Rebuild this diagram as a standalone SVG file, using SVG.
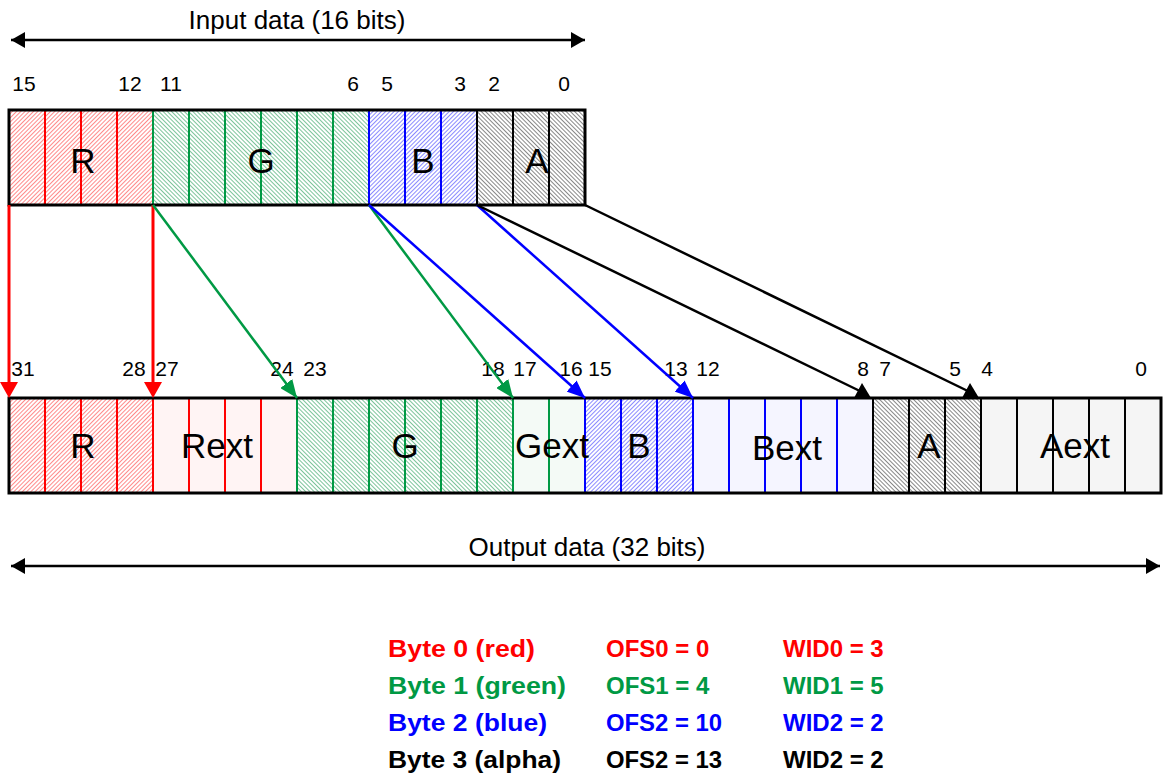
<svg xmlns="http://www.w3.org/2000/svg" width="1165" height="776" viewBox="0 0 1165 776">
<style>
text { font-family: "Liberation Sans", Arial, Helvetica, sans-serif; }
.num { font-size: 21px; text-anchor: middle; fill: #000; }
.big { font-size: 35px; text-anchor: middle; fill: #000; }
.title { font-size: 26px; text-anchor: middle; fill: #000; }
.leg { font-size: 24px; font-weight: bold; }
.border { fill: none; stroke: #000; stroke-width: 3; }
.dr { stroke: #ff0000; stroke-width: 2; }
.dg { stroke: #009944; stroke-width: 2; }
.db { stroke: #0000ff; stroke-width: 2; }
.dk { stroke: #000; stroke-width: 2; }
.cr { stroke: #ff0000; stroke-width: 3; fill: none; }
.cg { stroke: #009944; stroke-width: 2.5; fill: none; marker-end: url(#ahG); }
.cb { stroke: #0000ff; stroke-width: 2.5; fill: none; marker-end: url(#ahB); }
.ck { stroke: #000; stroke-width: 2.5; fill: none; }
</style>
<defs>
<pattern id="hR" width="3" height="3" patternUnits="userSpaceOnUse" patternTransform="rotate(45)">
<rect width="3" height="3" fill="#fff"/><rect width="1" height="3" fill="#ff8a8a"/>
</pattern>
<pattern id="hG" width="3" height="3" patternUnits="userSpaceOnUse" patternTransform="rotate(-45)">
<rect width="3" height="3" fill="#fff"/><rect width="1" height="3" fill="#7cc49a"/>
</pattern>
<pattern id="hB" width="3" height="3" patternUnits="userSpaceOnUse" patternTransform="rotate(45)">
<rect width="3" height="3" fill="#fff"/><rect width="1" height="3" fill="#8a8aff"/>
</pattern>
<pattern id="hA" width="3" height="3" patternUnits="userSpaceOnUse" patternTransform="rotate(-45)">
<rect width="3" height="3" fill="#fff"/><rect width="1" height="3" fill="#888"/>
</pattern>
<marker id="ahG" markerUnits="userSpaceOnUse" markerWidth="18" markerHeight="15" refX="18" refY="7.5" orient="auto">
<path d="M0,0 L18,7.5 L0,15 z" fill="#009944"/>
</marker>
<marker id="ahB" markerUnits="userSpaceOnUse" markerWidth="18" markerHeight="15" refX="18" refY="7.5" orient="auto">
<path d="M0,0 L18,7.5 L0,15 z" fill="#0000ff"/>
</marker>
<marker id="ahK" markerUnits="userSpaceOnUse" markerWidth="14" markerHeight="16" refX="14" refY="8" orient="auto-start-reverse">
<path d="M0,0 L14,8 L0,16 z" fill="#000"/>
</marker>
</defs>
<rect width="1165" height="776" fill="#fff"/>

<g id="input-title">
<text class="title" x="297" y="29">Input data (16 bits)</text>
<line x1="11" y1="40" x2="585" y2="40" stroke="#000" stroke-width="2.5" marker-start="url(#ahK)" marker-end="url(#ahK)"/>
</g>

<g id="input-register">
<rect x="9" y="110" width="144" height="95" fill="url(#hR)"/>
<rect x="153" y="110" width="216" height="95" fill="url(#hG)"/>
<rect x="369" y="110" width="108" height="95" fill="url(#hB)"/>
<rect x="477" y="110" width="108" height="95" fill="url(#hA)"/>
<g class="dr"><line x1="45" y1="110" x2="45" y2="205"/><line x1="81" y1="110" x2="81" y2="205"/><line x1="117" y1="110" x2="117" y2="205"/></g>
<g class="dg"><line x1="153" y1="110" x2="153" y2="205"/><line x1="189" y1="110" x2="189" y2="205"/><line x1="225" y1="110" x2="225" y2="205"/><line x1="261" y1="110" x2="261" y2="205"/><line x1="297" y1="110" x2="297" y2="205"/><line x1="333" y1="110" x2="333" y2="205"/></g>
<g class="db"><line x1="369" y1="110" x2="369" y2="205"/><line x1="405" y1="110" x2="405" y2="205"/><line x1="441" y1="110" x2="441" y2="205"/></g>
<g class="dk"><line x1="477" y1="110" x2="477" y2="205"/><line x1="513" y1="110" x2="513" y2="205"/><line x1="549" y1="110" x2="549" y2="205"/></g>
<rect class="border" x="9" y="110" width="576" height="95"/>
<text class="big" x="83" y="173">R</text>
<text class="big" x="261" y="173">G</text>
<text class="big" x="423" y="173">B</text>
<text class="big" x="537" y="173">A</text>
</g>

<g id="input-bits">
<text class="num" x="24" y="91">15</text>
<text class="num" x="130" y="91">12</text>
<text class="num" x="171" y="91">11</text>
<text class="num" x="353" y="91">6</text>
<text class="num" x="387" y="91">5</text>
<text class="num" x="460" y="91">3</text>
<text class="num" x="494" y="91">2</text>
<text class="num" x="564" y="91">0</text>
</g>

<g id="output-register">
<rect x="9" y="398" width="144" height="95" fill="url(#hR)"/>
<rect x="153" y="398" width="144" height="95" fill="#fff4f4"/>
<rect x="297" y="398" width="216" height="95" fill="url(#hG)"/>
<rect x="513" y="398" width="72" height="95" fill="#f4faf6"/>
<rect x="585" y="398" width="108" height="95" fill="url(#hB)"/>
<rect x="693" y="398" width="180" height="95" fill="#f5f5ff"/>
<rect x="873" y="398" width="108" height="95" fill="url(#hA)"/>
<rect x="981" y="398" width="180" height="95" fill="#f5f5f5"/>
<g class="dr"><line x1="45" y1="398" x2="45" y2="493"/><line x1="81" y1="398" x2="81" y2="493"/><line x1="117" y1="398" x2="117" y2="493"/><line x1="153" y1="398" x2="153" y2="493"/><line x1="189" y1="398" x2="189" y2="493"/><line x1="225" y1="398" x2="225" y2="493"/><line x1="261" y1="398" x2="261" y2="493"/></g>
<g class="dg"><line x1="297" y1="398" x2="297" y2="493"/><line x1="333" y1="398" x2="333" y2="493"/><line x1="369" y1="398" x2="369" y2="493"/><line x1="405" y1="398" x2="405" y2="493"/><line x1="441" y1="398" x2="441" y2="493"/><line x1="477" y1="398" x2="477" y2="493"/><line x1="513" y1="398" x2="513" y2="493"/><line x1="549" y1="398" x2="549" y2="493"/></g>
<g class="db"><line x1="585" y1="398" x2="585" y2="493"/><line x1="621" y1="398" x2="621" y2="493"/><line x1="657" y1="398" x2="657" y2="493"/><line x1="693" y1="398" x2="693" y2="493"/><line x1="729" y1="398" x2="729" y2="493"/><line x1="765" y1="398" x2="765" y2="493"/><line x1="801" y1="398" x2="801" y2="493"/><line x1="837" y1="398" x2="837" y2="493"/></g>
<g class="dk"><line x1="873" y1="398" x2="873" y2="493"/><line x1="909" y1="398" x2="909" y2="493"/><line x1="945" y1="398" x2="945" y2="493"/><line x1="981" y1="398" x2="981" y2="493"/><line x1="1017" y1="398" x2="1017" y2="493"/><line x1="1053" y1="398" x2="1053" y2="493"/><line x1="1089" y1="398" x2="1089" y2="493"/><line x1="1125" y1="398" x2="1125" y2="493"/></g>
<rect class="border" x="9" y="398" width="1152" height="95"/>
<text class="big" x="83" y="458">R</text>
<text class="big" x="217" y="458">Rext</text>
<text class="big" x="405" y="458">G</text>
<text class="big" x="552" y="458">Gext</text>
<text class="big" x="639" y="458">B</text>
<text class="big" x="787" y="460">Bext</text>
<text class="big" x="929" y="458">A</text>
<text class="big" x="1075" y="458">Aext</text>
</g>

<g id="output-bits">
<text class="num" x="23" y="376">31</text>
<text class="num" x="134" y="376">28</text>
<text class="num" x="167" y="376">27</text>
<text class="num" x="282" y="376">24</text>
<text class="num" x="315" y="376">23</text>
<text class="num" x="493" y="376">18</text>
<text class="num" x="525" y="376">17</text>
<text class="num" x="571" y="376">16</text>
<text class="num" x="600" y="376">15</text>
<text class="num" x="676" y="376">13</text>
<text class="num" x="708" y="376">12</text>
<text class="num" x="863" y="376">8</text>
<text class="num" x="885" y="376">7</text>
<text class="num" x="955" y="376">5</text>
<text class="num" x="987" y="376">4</text>
<text class="num" x="1141" y="376">0</text>
</g>

<g id="connectors">
<line class="cr" x1="9" y1="205" x2="9" y2="384"/>
<polygon points="0,382 18,382 9,398" fill="#ff0000"/>
<line class="cr" x1="153" y1="205" x2="153" y2="384"/>
<polygon points="144,382 162,382 153,398" fill="#ff0000"/>
<line class="cg" x1="153" y1="205" x2="297" y2="398"/>
<line class="cg" x1="369" y1="205" x2="513" y2="398"/>
<line class="cb" x1="369" y1="205" x2="585" y2="398"/>
<line class="cb" x1="477" y1="205" x2="693" y2="398"/>
<line class="ck" x1="477" y1="205" x2="866" y2="394"/>
<polygon points="862,383 854,398 871,398" fill="#000"/>
<line class="ck" x1="585" y1="205" x2="974" y2="394"/>
<polygon points="970,383 962,398 979,398" fill="#000"/>
</g>

<g id="output-title">
<text class="title" x="587" y="556">Output data (32 bits)</text>
<line x1="11" y1="566" x2="1160" y2="566" stroke="#000" stroke-width="2.5" marker-start="url(#ahK)" marker-end="url(#ahK)"/>
</g>

<g id="legend">
<text class="leg" x="388" y="657" fill="#ff0000" textLength="147" lengthAdjust="spacingAndGlyphs">Byte 0 (red)</text>
<text class="leg" x="606" y="657" fill="#ff0000">OFS0 = 0</text>
<text class="leg" x="783" y="657" fill="#ff0000">WID0 = 3</text>
<text class="leg" x="388" y="694" fill="#009944" textLength="178" lengthAdjust="spacingAndGlyphs">Byte 1 (green)</text>
<text class="leg" x="606" y="694" fill="#009944">OFS1 = 4</text>
<text class="leg" x="783" y="694" fill="#009944">WID1 = 5</text>
<text class="leg" x="388" y="731" fill="#0000ff" textLength="159" lengthAdjust="spacingAndGlyphs">Byte 2 (blue)</text>
<text class="leg" x="606" y="731" fill="#0000ff" textLength="116" lengthAdjust="spacingAndGlyphs">OFS2 = 10</text>
<text class="leg" x="783" y="731" fill="#0000ff">WID2 = 2</text>
<text class="leg" x="388" y="768" fill="#000" textLength="173" lengthAdjust="spacingAndGlyphs">Byte 3 (alpha)</text>
<text class="leg" x="606" y="768" fill="#000" textLength="116" lengthAdjust="spacingAndGlyphs">OFS2 = 13</text>
<text class="leg" x="783" y="768" fill="#000">WID2 = 2</text>
</g>
</svg>
